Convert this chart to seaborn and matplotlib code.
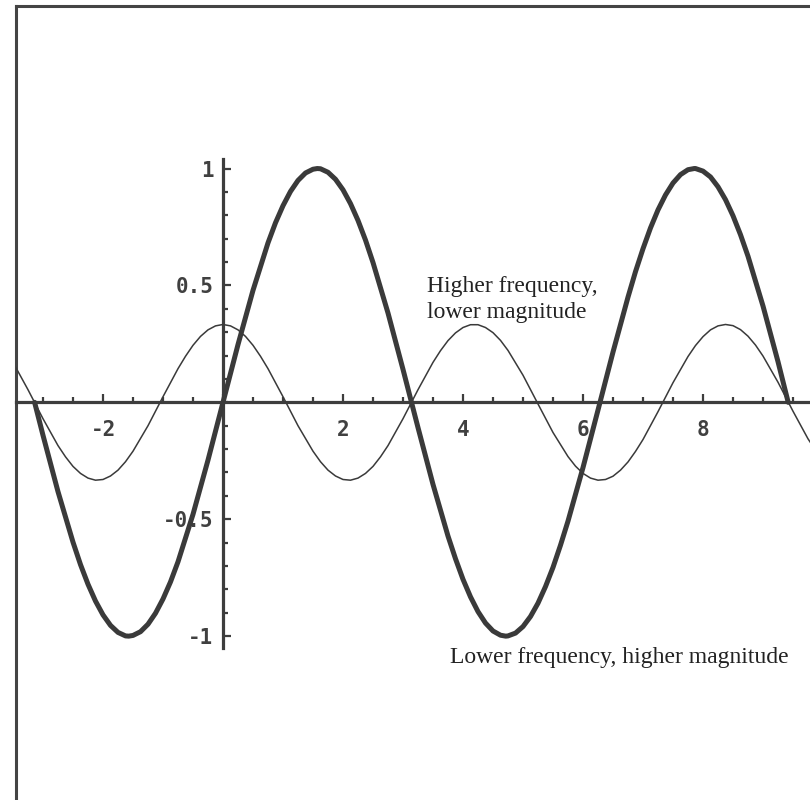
import numpy as np
import pandas as pd
import matplotlib
matplotlib.use("Agg")
import matplotlib.pyplot as plt
import seaborn as sns

# thick curve: lower frequency, higher magnitude
thick_x = [-3.14, -3.0, -2.75, -2.5, -2.375, -2.25, -2.125, -2.0, -1.875, -1.75, -1.625, -1.571,
           -1.5, -1.375, -1.25, -1.125, -1.0, -0.875, -0.75, -0.5, -0.25,
           0.0, 0.25, 0.5, 0.75, 0.875, 1.0, 1.125, 1.25, 1.375, 1.5, 1.571, 1.625, 1.75,
           1.875, 2.0, 2.125, 2.25, 2.375, 2.5, 2.75, 3.0, 3.25, 3.5,
           3.75, 3.875, 4.0, 4.125, 4.25, 4.375, 4.5, 4.625, 4.712, 4.75, 4.875, 5.0, 5.125,
           5.25, 5.375, 5.5, 5.625, 5.75, 6.0, 6.25, 6.5, 6.75, 6.875, 7.0, 7.125, 7.25,
           7.375, 7.5, 7.625, 7.75, 7.854, 7.875, 8.0, 8.125, 8.25, 8.375, 8.5, 8.625, 8.75,
           9.0, 9.25, 9.42]
thick_y = [0.0, -0.141, -0.382, -0.598, -0.694, -0.778, -0.850, -0.909, -0.954, -0.984, -0.999,
           -1.0, -0.997, -0.981, -0.949, -0.902, -0.841, -0.768, -0.682, -0.479, -0.247,
           0.0, 0.247, 0.479, 0.682, 0.768, 0.841, 0.902, 0.949, 0.981, 0.997, 1.0, 0.999,
           0.984, 0.954, 0.909, 0.850, 0.778, 0.694, 0.598, 0.382, 0.141, -0.108, -0.351,
           -0.572, -0.669, -0.757, -0.832, -0.895, -0.944, -0.978, -0.996, -1.0, -0.999,
           -0.987, -0.959, -0.916, -0.859, -0.788, -0.706, -0.611, -0.508, -0.279, -0.033,
           0.215, 0.450, 0.559, 0.657, 0.746, 0.823, 0.887, 0.938, 0.974, 0.995, 1.0, 1.0,
           0.989, 0.964, 0.922, 0.867, 0.798, 0.717, 0.625, 0.412, 0.174, 0.0]

# thin curve: higher frequency, lower magnitude
thin_x = [-3.5, -3.25, -3.0, -2.75, -2.625, -2.5, -2.375, -2.25, -2.125, -2.0, -1.875, -1.75,
          -1.625, -1.5, -1.25, -1.0, -0.75, -0.625, -0.5, -0.375, -0.25, -0.125, 0.0, 0.125,
          0.25, 0.375, 0.5, 0.625, 0.75, 1.0, 1.25, 1.5, 1.625, 1.75, 1.875, 2.0, 2.125, 2.25,
          2.375, 2.5, 2.625, 2.75, 3.0, 3.25, 3.5, 3.625, 3.75, 3.875, 4.0, 4.125, 4.25, 4.375,
          4.5, 4.625, 4.75, 5.0, 5.25, 5.5, 5.75, 5.875, 6.0, 6.125, 6.25, 6.375, 6.5, 6.625,
          6.75, 6.875, 7.0, 7.25, 7.5, 7.75, 7.875, 8.0, 8.125, 8.25, 8.375, 8.5, 8.625, 8.75,
          8.875, 9.0, 9.25, 9.5, 9.75, 10.0]
thin_y = [0.171, 0.054, -0.070, -0.185, -0.233, -0.274, -0.304, -0.324, -0.333, -0.330, -0.315,
          -0.290, -0.254, -0.209, -0.100, 0.024, 0.144, 0.197, 0.244, 0.282, 0.310, 0.327,
          0.333, 0.327, 0.310, 0.282, 0.244, 0.197, 0.144, 0.024, -0.100, -0.209, -0.254,
          -0.290, -0.315, -0.330, -0.333, -0.324, -0.304, -0.274, -0.233, -0.185, -0.070,
          0.054, 0.171, 0.221, 0.264, 0.297, 0.320, 0.332, 0.332, 0.320, 0.298, 0.265, 0.222,
          0.116, -0.007, -0.129, -0.232, -0.273, -0.304, -0.324, -0.333, -0.330, -0.316,
          -0.290, -0.255, -0.210, -0.159, -0.040, 0.084, 0.196, 0.243, 0.281, 0.310, 0.327,
          0.333, 0.328, 0.311, 0.283, 0.245, 0.198, 0.086, -0.038, -0.156, -0.253]

x_ticks = [-2, 0, 2, 4, 6, 8]
x_labels = ["-2", "", "2", "4", "6", "8"]
y_ticks = [-1, -0.5, 0.5, 1]
y_labels = ["-1", "-0.5", "0.5", "1"]

sns.set_style("white")
ink = "#3d3d3d"

fig = plt.figure(figsize=(8.1, 8.0), dpi=100)
pos = [16 / 810, -11.5 / 800, 807 / 810, 805.7 / 800]

# outer frame (right and bottom edges fall outside the picture)
frame = fig.add_axes(pos)
frame.set_xticks([])
frame.set_yticks([])
for s in frame.spines.values():
    s.set_linewidth(2.2)
    s.set_color("#444444")

ax = fig.add_axes(pos)
ax.patch.set_visible(False)

thick = pd.DataFrame({"x": thick_x, "y": thick_y})
thin = pd.DataFrame({"x": thin_x, "y": thin_y})
sns.lineplot(data=thick, x="x", y="y", ax=ax, sort=False, estimator=None,
             color="#3a3a3a", linewidth=3.6, zorder=3, solid_joinstyle="round")
sns.lineplot(data=thin, x="x", y="y", ax=ax, sort=False, estimator=None,
             color="#3a3a3a", linewidth=1.1, zorder=3, solid_joinstyle="round")

ax.set_xlim(-3.45, 10)
ax.set_ylim(-1.75, 1.696)
ax.set_xlabel("")
ax.set_ylabel("")

# axes crossing at the origin
for side in ["top", "right"]:
    ax.spines[side].set_visible(False)
ax.spines["left"].set_position(("data", 0))
ax.spines["bottom"].set_position(("data", 0))
ax.spines["left"].set_bounds(-1.05, 1.04)
for side in ["left", "bottom"]:
    ax.spines[side].set_linewidth(2.3)
    ax.spines[side].set_color(ink)
    ax.spines[side].set_zorder(2)

tick_font = dict(fontfamily="DejaVu Sans Mono", fontweight="bold", fontsize=15, color="#404040")
ax.set_xticks(x_ticks)
ax.set_xticklabels(x_labels, **tick_font)
ax.set_xticks(np.arange(-3.0, 10.0, 0.5), minor=True)
ax.set_yticks(y_ticks)
ax.set_yticklabels(y_labels, **tick_font)
ax.set_yticks(np.round(np.arange(-1.0, 1.01, 0.1), 1), minor=True)

ax.tick_params(axis="x", which="major", bottom=True, direction="in", length=5.5, width=1.6,
               color=ink, pad=13)
ax.tick_params(axis="x", which="minor", bottom=True, direction="in", length=3.6, width=1.6,
               color=ink)
ax.tick_params(axis="y", which="major", left=True, direction="in", length=6, width=1.6,
               color=ink, pad=7)
ax.tick_params(axis="y", which="minor", left=True, direction="in", length=3.8, width=1.6,
               color=ink)

note = dict(fontfamily="Liberation Serif", fontsize=17, color="#222222", va="baseline", ha="left")
ax.text(3.40, 0.472, "Higher frequency,", **note)
ax.text(3.40, 0.362, "lower magnitude", **note)
ax.text(3.78, -1.115, "Lower frequency, higher magnitude", **note)

fig.savefig("out.png", dpi=100)
